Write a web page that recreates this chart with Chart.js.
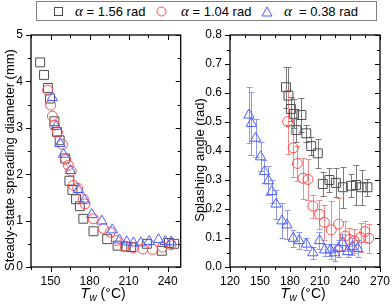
<!DOCTYPE html>
<html>
<head>
<meta charset="utf-8">
<script src="https://cdn.jsdelivr.net/npm/chart.js@4.4.1/dist/chart.umd.min.js"></script>
<style>
  body { margin: 0; background: #fff; }
  #wrap { position: relative; width: 392px; height: 304px; overflow: hidden; font-family: "Liberation Sans", Arial, sans-serif; }
  canvas { position: absolute; top: 0; }
  #leftChart { left: 0; }
  #rightChart { left: 188px; }
  .legend { position: absolute; left: 36px; top: 1px; width: 341px; height: 20px; border: 1px solid #808080; box-sizing: border-box; font-size: 13px; color: #000; }
  .item { position: absolute; top: 1px; line-height: 17px; white-space: nowrap; }
  .item svg { position: absolute; top: 3px; }
  .alpha { font-family: "Liberation Serif", "DejaVu Serif", serif; font-style: italic; font-size: 15px; }
</style>
</head>
<body>
<div id="wrap">
  <div class="legend">
    <span class="item" style="left:16px"><svg width="11" height="11"><rect x="1.5" y="1.5" width="8" height="8" fill="none" stroke="#4d4d4d"/></svg></span>
    <span class="item" style="left:38px"><span class="alpha">α</span> = 1.56 rad</span>
    <span class="item" style="left:119px"><svg width="11" height="11"><circle cx="5.5" cy="5.5" r="4.5" fill="none" stroke="#ff4d4d"/></svg></span>
    <span class="item" style="left:144px"><span class="alpha">α</span> = 1.04 rad</span>
    <span class="item" style="left:224px"><svg width="12" height="11"><polygon points="6,1 11,10 1,10" fill="none" stroke="#4d5cff"/></svg></span>
    <span class="item" style="left:247px"><span class="alpha">α</span>&nbsp; = 0.38 rad</span>
  </div>
  <canvas id="leftChart" width="188" height="304"></canvas>
  <canvas id="rightChart" width="204" height="304"></canvas>
</div>
<script>
// 1) Data

// Steady-state spreading diameter (mm) vs wall temperature (°C)
const diamTemp156 = [142, 145, 148, 149.6, 153, 155, 157, 161.2, 164.5, 166.8, 169.6, 172.5, 175.2, 183, 193.5, 201.5, 207.8, 212, 224, 235.5, 241, 245];
const diam156 = [4.41, 4.14, 3.86, 3.63, 3.14, 2.91, 2.73, 2.34, 1.86, 1.66, 1.46, 1.31, 1.04, 0.77, 0.6, 0.46, 0.44, 0.43, 0.5, 0.35, 0.52, 0.5];
const diamTemp104 = [147.8, 150.1, 151.4, 152.9, 155.3, 159.1, 161.7, 163.7, 165.8, 167.6, 170.9, 175.2, 176.5, 182.9, 190.6, 195.8, 200.4, 207.3, 213.7, 220.9, 228.3, 236, 242.7];
const diam104 = [3.81, 3.49, 3.25, 3.06, 2.91, 2.64, 2.32, 2.19, 2.07, 1.76, 1.7, 1.47, 1.36, 1.04, 0.83, 0.75, 0.57, 0.45, 0.41, 0.39, 0.38, 0.43, 0.48];
const diamTemp038 = [151.4, 154.2, 157.3, 159.9, 165.3, 171.4, 176, 181.7, 189.4, 197.5, 203, 208.6, 213.7, 219.4, 225.8, 233, 238.1, 242.7];
const diam038 = [3.65, 3.03, 2.66, 2.43, 2.08, 1.67, 1.44, 1.13, 0.99, 0.8, 0.58, 0.54, 0.52, 0.52, 0.55, 0.59, 0.55, 0.54];

// Splashing angle (rad) vs wall temperature, with error bars
const angTemp156 = [176, 178.5, 180.9, 184.1, 186.4, 191.4, 196.3, 201.2, 207.8, 212.8, 219.4, 225.9, 232.8, 241.1, 246, 251.6, 257.5];
const ang156 = [0.62, 0.591, 0.545, 0.528, 0.472, 0.524, 0.461, 0.417, 0.392, 0.286, 0.3, 0.29, 0.275, 0.28, 0.283, 0.275, 0.275];
const angErr156 = [0.07, 0.1, 0.04, 0.05, 0.04, 0.06, 0.03, 0.03, 0.05, 0.04, 0.04, 0.05, 0.07, 0.04, 0.07, 0.06, 0.03];
const angTemp104 = [177.6, 183.2, 187.4, 193, 198, 202.9, 209.5, 214.4, 221.3, 228.6, 235.2, 239.4, 244.3, 250.6, 254.9, 258.8];
const ang104 = [0.501, 0.411, 0.357, 0.306, 0.302, 0.21, 0.182, 0.154, 0.128, 0.148, 0.107, 0.095, 0.09, 0.102, 0.122, 0.099];
const angErr104 = [0.11, 0.1, 0.06, 0.07, 0.07, 0.04, 0.05, 0.06, 0.1, 0.09, 0.05, 0.04, 0.04, 0.05, 0.035, 0.05];
const angTemp038 = [139, 141.4, 145.7, 150.6, 154.5, 158.5, 161.7, 166.1, 172, 176.9, 183.2, 189.1, 196.3, 202.9, 209.5, 214.7, 220.4, 224.6, 228.6, 232.5, 237.7, 242.4, 247.6];
const ang038 = [0.524, 0.495, 0.444, 0.38, 0.329, 0.297, 0.26, 0.217, 0.159, 0.145, 0.099, 0.091, 0.079, 0.049, 0.091, 0.059, 0.059, 0.049, 0.064, 0.084, 0.053, 0.07, 0.064];
const angErr038 = [0.095, 0.11, 0.065, 0.05, 0.04, 0.05, 0.04, 0.05, 0.06, 0.05, 0.03, 0.03, 0.02, 0.02, 0.03, 0.02, 0.02, 0.03, 0.03, 0.03, 0.02, 0.03, 0.03];

// Tick positions (major ones get labels)
const leftTempMajor = [150, 180, 210, 240];
const leftTempMinor = [135, 165, 195, 225];
const diamMajor = [0, 1, 2, 3, 4, 5];
const diamMinor = [0.5, 1.5, 2.5, 3.5, 4.5];
const rightTempMajor = [120, 150, 180, 210, 240, 270];
const rightTempMinor = [135, 165, 195, 225, 255];
const angMajor = [0, 0.1, 0.2, 0.3, 0.4, 0.5, 0.6, 0.7, 0.8];
const angMinor = [0.05, 0.15, 0.25, 0.35, 0.45, 0.55, 0.65, 0.75];

const FONT = "'Liberation Sans', Arial, sans-serif";
const zip = (xs, ys) => xs.map((x, i) => ({ x, y: ys[i] }));

// 2) Plugins: error bars, Origin-style frame and ticks, axis titles
const errorBars = {
  id: "errorBars",
  beforeDatasetsDraw(chart) {
    const { ctx } = chart;
    const xs = chart.scales.x, ys = chart.scales.y;
    chart.data.datasets.forEach((ds) => {
      if (!ds.errors) return;
      ctx.save();
      ctx.strokeStyle = ds.errorColor;
      ctx.lineWidth = 1;
      ctx.beginPath();
      ds.data.forEach((p, i) => {
        const e = ds.errors[i];
        const px = Math.round(xs.getPixelForValue(p.x)) + 0.5;
        const top = Math.round(ys.getPixelForValue(p.y + e)) + 0.5;
        const bot = Math.round(ys.getPixelForValue(p.y - e)) + 0.5;
        ctx.moveTo(px, top); ctx.lineTo(px, bot);
        ctx.moveTo(px - 3, top); ctx.lineTo(px + 3, top);
        ctx.moveTo(px - 3, bot); ctx.lineTo(px + 3, bot);
      });
      ctx.stroke();
      ctx.restore();
    });
  },
};

const frame = {
  id: "frame",
  afterDraw(chart, args, o) {
    const { ctx, chartArea: a } = chart;
    const xs = chart.scales.x, ys = chart.scales.y;
    ctx.save();
    ctx.strokeStyle = "#000";
    ctx.lineWidth = 1;
    ctx.beginPath();
    xs.ticks.forEach((t) => {
      const px = Math.round(xs.getPixelForValue(t.value)) + 0.5;
      const len = o.xMajor.includes(t.value) ? 5 : 3;
      ctx.moveTo(px, a.bottom); ctx.lineTo(px, a.bottom + len);
      ctx.moveTo(px, a.top); ctx.lineTo(px, a.top + len);
    });
    ys.ticks.forEach((t) => {
      const py = Math.round(ys.getPixelForValue(t.value)) + 0.5;
      const len = o.yMajor.includes(t.value) ? 5 : 3;
      ctx.moveTo(a.left, py); ctx.lineTo(a.left - len, py);
      ctx.moveTo(a.right, py); ctx.lineTo(a.right - len, py);
    });
    ctx.stroke();
    ctx.lineWidth = 1.3;
    ctx.strokeRect(a.left, a.top, a.right - a.left, a.bottom - a.top);

    // y title
    ctx.fillStyle = "#000";
    ctx.font = `13px ${FONT}`;
    ctx.textAlign = "center";
    ctx.textBaseline = "middle";
    ctx.translate(o.yTitleX, o.yTitleY);
    ctx.rotate(-Math.PI / 2);
    ctx.fillText(o.yTitle, 0, 0);
    ctx.setTransform(1, 0, 0, 1, 0, 0);

    // x title: T_w (°C)
    const parts = [
      { t: "T", f: `italic 15px ${FONT}`, dy: 0 },
      { t: "w", f: `italic 10px ${FONT}`, dy: 3 },
      { t: " (°C)", f: `14px ${FONT}`, dy: 0 },
    ];
    ctx.textAlign = "left";
    ctx.textBaseline = "alphabetic";
    let w = 0;
    parts.forEach((p) => { ctx.font = p.f; w += ctx.measureText(p.t).width; });
    let x = o.xTitleX - w / 2;
    parts.forEach((p) => {
      ctx.font = p.f;
      ctx.fillText(p.t, x, 298 + p.dy);
      x += ctx.measureText(p.t).width;
    });
    ctx.restore();
  },
};

// 3) Chart builder
function makeChart(id, cfg) {
  const allX = cfg.xMajor.concat(cfg.xMinor).sort((a, b) => a - b);
  const allY = cfg.yMajor.concat(cfg.yMinor).sort((a, b) => a - b);
  const tickFont = { family: FONT, size: 12 };
  return new Chart(document.getElementById(id), {
    type: "scatter",
    data: { datasets: cfg.datasets },
    options: {
      responsive: false,
      animation: false,
      layout: { padding: { top: 35, right: cfg.padRight, left: 0, bottom: 0 } },
      plugins: {
        legend: { display: false },
        tooltip: { enabled: false },
        frame: cfg.frame,
      },
      scales: {
        x: {
          type: "linear",
          min: cfg.xMin,
          max: cfg.xMax,
          afterBuildTicks: (s) => { s.ticks = allX.map((v) => ({ value: v })); },
          afterFit: (s) => { s.height = 37; },
          grid: { display: true, drawOnChartArea: false, drawTicks: true, tickLength: 5, tickColor: "rgba(0,0,0,0)" },
          border: { display: false },
          ticks: {
            autoSkip: false,
            maxRotation: 0,
            padding: 2,
            color: "#000",
            font: tickFont,
            callback: (v) => (cfg.xMajor.includes(v) ? String(v) : ""),
          },
        },
        y: {
          type: "linear",
          min: cfg.yMin,
          max: cfg.yMax,
          afterBuildTicks: (s) => { s.ticks = allY.map((v) => ({ value: v })); },
          afterFit: (s) => { s.width = cfg.yWidth; },
          grid: { display: true, drawOnChartArea: false, drawTicks: true, tickLength: 5, tickColor: "rgba(0,0,0,0)" },
          border: { display: false },
          ticks: {
            autoSkip: false,
            padding: 3,
            color: "#000",
            font: tickFont,
            callback: (v) => (cfg.yMajor.includes(v) ? cfg.yFmt(v) : ""),
          },
        },
      },
    },
    plugins: [errorBars, frame],
  });
}

const squareStyle = { pointStyle: "rect", pointRadius: 6.3, borderColor: "#4d4d4d", order: 3 };
const circleStyle = { pointStyle: "circle", pointRadius: 5, borderColor: "#ff4d4d", order: 2 };
const triangleStyle = { pointStyle: "triangle", pointRadius: 6, borderColor: "#4d5cff", order: 1 };
const common = { backgroundColor: "rgba(0,0,0,0)", borderWidth: 1, pointHoverRadius: 6 };

// Left: spreading diameter
makeChart("leftChart", {
  xMin: 135, xMax: 250, yMin: 0, yMax: 5,
  xMajor: leftTempMajor, xMinor: leftTempMinor,
  yMajor: diamMajor, yMinor: diamMinor,
  yFmt: (v) => String(v),
  yWidth: 31, padRight: 6,
  frame: { xMajor: leftTempMajor, yMajor: diamMajor, yTitle: "Steady-state spreading diameter (mm)", yTitleX: 10, yTitleY: 160, xTitleX: 103 },
  datasets: [
    { label: "α = 1.56 rad", data: zip(diamTemp156, diam156), ...common, ...squareStyle },
    { label: "α = 1.04 rad", data: zip(diamTemp104, diam104), ...common, ...circleStyle },
    { label: "α = 0.38 rad", data: zip(diamTemp038, diam038), ...common, ...triangleStyle },
  ],
});

// Right: splashing angle
makeChart("rightChart", {
  xMin: 120, xMax: 270, yMin: 0, yMax: 0.8,
  xMajor: rightTempMajor, xMinor: rightTempMinor,
  yMajor: angMajor, yMinor: angMinor,
  yFmt: (v) => v.toFixed(1),
  yWidth: 42, padRight: 10,
  frame: { xMajor: rightTempMajor, yMajor: angMajor, yTitle: "Splashing angle (rad)", yTitleX: 12, yTitleY: 160, xTitleX: 115 },
  datasets: [
    { label: "α = 1.56 rad", data: zip(angTemp156, ang156), errors: angErr156, errorColor: "#7a7a7a", ...common, ...squareStyle },
    { label: "α = 1.04 rad", data: zip(angTemp104, ang104), errors: angErr104, errorColor: "#f28c8c", ...common, ...circleStyle },
    { label: "α = 0.38 rad", data: zip(angTemp038, ang038), errors: angErr038, errorColor: "#8c99f2", ...common, ...triangleStyle },
  ],
});
</script>
</body>
</html>
